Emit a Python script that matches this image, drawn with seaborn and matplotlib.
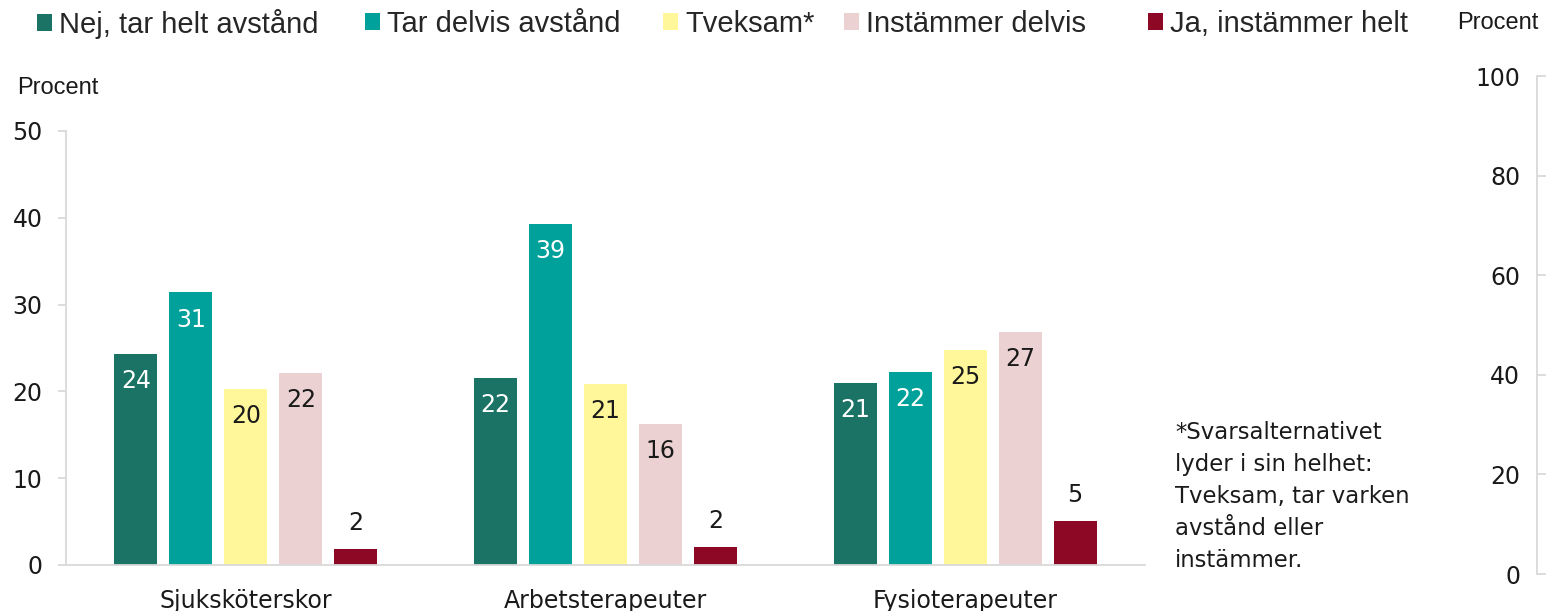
import numpy as np
import pandas as pd
import matplotlib
matplotlib.use('Agg')
import matplotlib.pyplot as plt
import seaborn as sns

# ---- data ----
categories = ['Sjuksköterskor', 'Arbetsterapeuter', 'Fysioterapeuter']
series = ['Nej, tar helt avstånd', 'Tar delvis avstånd', 'Tveksam*',
          'Instämmer delvis', 'Ja, instämmer helt']
nej_helt = [24.3, 21.6, 21.0]
tar_delvis = [31.4, 39.3, 22.2]
tveksam = [20.3, 20.9, 24.8]
instammer_delvis = [22.1, 16.2, 26.8]
ja_helt = [1.9, 2.1, 5.1]
left_ticks = [0, 10, 20, 30, 40, 50]
right_ticks = [0, 20, 40, 60, 80, 100]
footnote = "*Svarsalternativet\nlyder i sin helhet:\nTveksam, tar varken\navstånd eller\ninstämmer."

colors = ['#1B7365', '#00A19A', '#FFF799', '#EBD1D1', '#8C0824']
label_colors = ['white', 'white', '#1a1a1a', '#1a1a1a', '#1a1a1a']

values = [nej_helt, tar_delvis, tveksam, instammer_delvis, ja_helt]
rows = []
for s, vals in zip(series, values):
    for c, v in zip(categories, vals):
        rows.append({'Yrke': c, 'Svar': s, 'Procent': v})
df = pd.DataFrame(rows)

sns.set_style('white')
plt.rcParams['font.family'] = ['DejaVu Sans']

W, H = 1546, 611
fig = plt.figure(figsize=(W / 100, H / 100), dpi=100)
ax = fig.add_axes([66 / W, (H - 565) / H, (1145 - 66) / W, (565 - 131) / H])

sns.barplot(data=df, x='Yrke', y='Procent', hue='Svar', order=categories,
            hue_order=series, palette=colors, saturation=1, width=0.764,
            gap=0.22, linewidth=0, ax=ax, errorbar=None)

ax.set_xlim(-0.5, 2.5)
ax.set_ylim(0, 50)
ax.set_yticks(left_ticks)
ax.set_xlabel('')
ax.set_ylabel('')
grey = '#d9d9d9'
for side in ['top', 'right']:
    ax.spines[side].set_visible(False)
for side in ['left', 'bottom']:
    ax.spines[side].set_color(grey)
    ax.spines[side].set_linewidth(1.3)
ax.tick_params(axis='y', direction='out', length=6, width=1.3, color=grey,
               labelsize=17, labelcolor='#1a1a1a', pad=11, left=True)
ax.tick_params(axis='x', length=0, labelsize=17, labelcolor='#1a1a1a', pad=17)

# bar labels
for i, cont in enumerate(ax.containers):
    for bar in cont:
        h = bar.get_height()
        xc = bar.get_x() + bar.get_width() / 2
        txt = f"{h:.0f}"
        if i == 4:
            ax.annotate(txt, (xc, h), xytext=(0, 18.5), textcoords='offset points',
                        ha='center', va='center', fontsize=17, color='#1a1a1a')
        else:
            ax.annotate(txt, (xc, h), xytext=(0, -19.5), textcoords='offset points',
                        ha='center', va='center', fontsize=17, color=label_colors[i])

# legend: one entry per legend box, placed at the reference positions
handles, labels = ax.get_legend_handles_labels()
if ax.get_legend() is not None:
    ax.get_legend().remove()
legend_x = [37, 365, 663, 844, 1148]
for hnd, lab, lx in zip(handles, labels, legend_x):
    fig.legend([hnd], [lab], loc='center left', bbox_to_anchor=(lx / W, 1 - 24 / H),
               frameon=False, borderaxespad=0, borderpad=0,
               handlelength=0.5, handleheight=0.5, handletextpad=0.25,
               prop={'family': 'Liberation Sans', 'size': 21})

# secondary (right) axis
ax2 = fig.add_axes([1537 / W, (H - 574) / H, 0.0005, (574 - 76) / H])
ax2.set_ylim(0, 100)
ax2.set_yticks(right_ticks)
ax2.set_xticks([])
for side in ['top', 'right', 'bottom']:
    ax2.spines[side].set_visible(False)
ax2.spines['left'].set_color(grey)
ax2.spines['left'].set_linewidth(1.3)
ax2.tick_params(axis='y', direction='in', length=6.5, width=1.3, color=grey,
                labelsize=17, labelcolor='#1a1a1a', pad=12, left=True)
ax2.patch.set_visible(False)

# axis titles
fig.text(17 / W, 1 - 88 / H, 'Procent', ha='left', va='center',
         fontsize=17, family='Liberation Sans', color='#1a1a1a')
fig.text(1457 / W, 1 - 23 / H, 'Procent', ha='left', va='center',
         fontsize=17, family='Liberation Sans', color='#1a1a1a')

# footnote
fig.text(1175 / W, 1 - 421 / H, footnote, ha='left', va='top', fontsize=16.4,
         linespacing=1.5, color='#1a1a1a')

fig.savefig('out.png', dpi=100)
